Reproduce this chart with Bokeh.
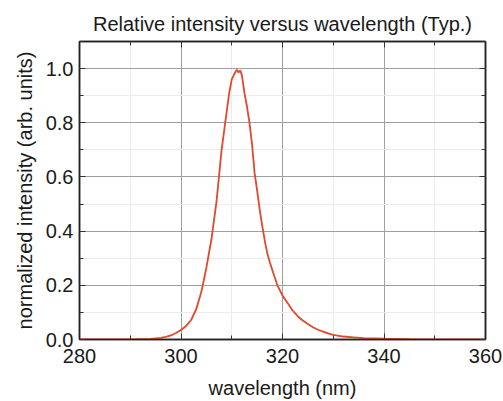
from bokeh.plotting import figure
from bokeh.models import LinearAxis, SingleIntervalTicker, PrintfTickFormatter, Range1d
from bokeh.embed import file_html
from bokeh.resources import INLINE

# data
wavelength = [280, 285, 290, 292, 294, 296, 297, 298, 299, 300, 301, 302, 303, 304, 305,
              306, 307, 308, 308.5, 309, 309.5, 310, 310.5, 311, 311.35, 311.7, 312, 312.5,
              313, 313.5, 314, 314.5, 315, 315.5, 316, 316.5, 317, 317.5, 318, 318.5, 319,
              320, 321, 322, 323, 324, 325, 326, 327, 328, 329, 330, 332, 334, 336, 338,
              340, 345, 350, 360]
intensity = [0.0, 0.0, 0.0, 0.001, 0.002, 0.006, 0.010, 0.015, 0.024, 0.035, 0.050, 0.072,
             0.112, 0.175, 0.265, 0.370, 0.510, 0.700, 0.770, 0.840, 0.910, 0.960, 0.980,
             0.996, 0.986, 0.993, 0.975, 0.910, 0.860, 0.800, 0.720, 0.615, 0.550, 0.480,
             0.420, 0.365, 0.318, 0.285, 0.256, 0.228, 0.200, 0.162, 0.135, 0.107, 0.086,
             0.070, 0.057, 0.045, 0.036, 0.029, 0.023, 0.017, 0.011, 0.008, 0.005, 0.004,
             0.003, 0.001, 0.0, 0.0]

FONT = "Liberation Sans"
TXT = "#1a1a1a"

p = figure(width=503, height=401, output_backend="svg", toolbar_location=None,
           x_range=Range1d(280, 360), y_range=Range1d(0, 1.1),
           title="Relative intensity versus wavelength (Typ.)",
           min_border_left=79, min_border_right=18, min_border_top=41, min_border_bottom=62)

p.title.text_font = FONT
p.title.text_font_size = "20px"
p.title.text_font_style = "normal"
p.title.text_color = TXT
p.title.align = "center"
p.title.standoff = 13

p.line(wavelength, intensity, line_color="#e2482a", line_width=1.8)

xt = SingleIntervalTicker(interval=20, num_minor_ticks=2)
yt = SingleIntervalTicker(interval=0.2, num_minor_ticks=2)
p.xaxis.ticker = xt
p.yaxis.ticker = yt
p.yaxis.formatter = PrintfTickFormatter(format="%.1f")

for ax in (p.xaxis[0], p.yaxis[0]):
    ax.major_tick_in = 6
    ax.major_tick_out = 0
    ax.minor_tick_in = 4
    ax.minor_tick_out = 0
    ax.axis_line_color = "#222222"
    ax.axis_line_width = 1.5
    ax.major_tick_line_color = "#333333"
    ax.minor_tick_line_color = "#333333"
    ax.major_label_text_font = FONT
    ax.major_label_text_font_size = "20px"
    ax.major_label_text_color = TXT
    ax.axis_label_text_font = FONT
    ax.axis_label_text_font_size = "20px"
    ax.axis_label_text_font_style = "normal"
    ax.axis_label_text_color = TXT

p.xaxis.axis_label = "wavelength (nm)"
p.yaxis.axis_label = "normalized intensity (arb. units)"
p.xaxis.major_label_standoff = 9
p.xaxis.axis_label_standoff = 11
p.yaxis.major_label_standoff = 6
p.yaxis.axis_label_standoff = 7

for side, tk in (("above", xt), ("right", yt)):
    a = LinearAxis(ticker=tk, major_label_text_font_size="1px", major_label_standoff=0,
                   major_tick_in=6, major_tick_out=0, minor_tick_in=4, minor_tick_out=0,
                   axis_line_color="#222222", axis_line_width=1.5,
                   major_tick_line_color="#333333", minor_tick_line_color="#333333")
    a.major_label_text_alpha = 0
    p.add_layout(a, side)

p.xgrid.grid_line_color = "#a0a0a0"
p.ygrid.grid_line_color = "#a0a0a0"
p.xgrid.minor_grid_line_color = "#ececec"
p.ygrid.minor_grid_line_color = "#ececec"
p.outline_line_color = "#222222"
p.outline_line_width = 1.5

open("out.html", "w").write(file_html(p, INLINE))
